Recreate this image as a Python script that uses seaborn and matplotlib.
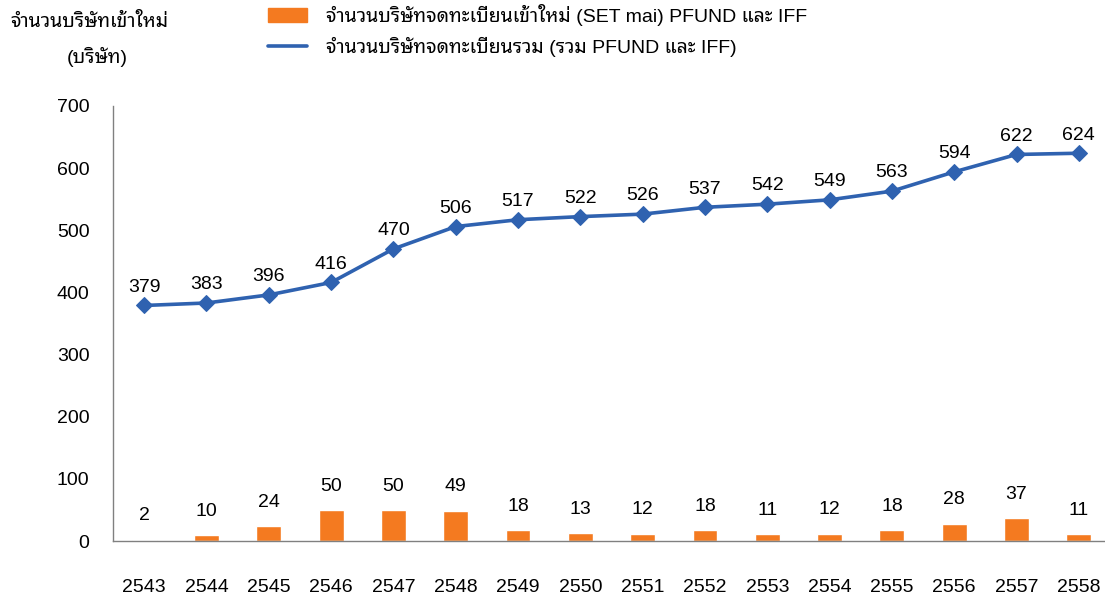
import numpy as np
import matplotlib
matplotlib.use("Agg")
import matplotlib.pyplot as plt
import seaborn as sns
from matplotlib import font_manager
from matplotlib.patches import Patch
from matplotlib.lines import Line2D

years = ['2543', '2544', '2545', '2546', '2547', '2548', '2549', '2550',
         '2551', '2552', '2553', '2554', '2555', '2556', '2557', '2558']
new_listed = [2, 10, 24, 50, 50, 49, 18, 13, 12, 18, 11, 12, 18, 28, 37, 11]
total_listed = [379, 383, 396, 416, 470, 506, 517, 522, 526, 537, 542, 549, 563, 594, 622, 624]

label_bar = 'จำนวนบริษัทจดทะเบียนเข้าใหม่ (SET mai) PFUND และ IFF'
label_line = 'จำนวนบริษัทจดทะเบียนรวม (รวม PFUND และ IFF)'
y_title = 'จำนวนบริษัทเข้าใหม่'
y_unit = '(บริษัท)'

orange = '#F47A20'
blue = '#2F62B0'

sns.set_theme(style="white")
available = {f.name for f in font_manager.fontManager.ttflist}
thai_font = next((n for n in ['Tahoma', 'Noto Sans Thai Looped', 'Sarabun', 'Loma', 'Garuda',
                              'Noto Sans Thai', 'Anuphan'] if n in available), 'DejaVu Sans')
plt.rcParams['font.family'] = ['Liberation Sans', thai_font, 'DejaVu Sans']
plt.rcParams['text.color'] = 'black'
plt.rcParams['xtick.labelcolor'] = 'black'
plt.rcParams['ytick.labelcolor'] = 'black'

fig = plt.figure(figsize=(11.05, 5.99), dpi=100)
ax = fig.add_axes([113 / 1105, 58 / 599, 997 / 1105, 435 / 599])

x = np.arange(len(years))
sns.barplot(x=years, y=new_listed, color=orange, width=0.4, saturation=1, ax=ax)
sns.lineplot(x=x, y=total_listed, color=blue, linewidth=2.6, marker='D',
             markersize=8, markeredgecolor=blue, ax=ax)

for xi, v in zip(x, new_listed):
    ax.annotate(str(v), (xi, v), xytext=(0, 11), textcoords='offset points',
                ha='center', va='bottom', fontsize=14)
for xi, v in zip(x, total_listed):
    ax.annotate(str(v), (xi, v), xytext=(0, 7), textcoords='offset points',
                ha='center', va='bottom', fontsize=14)

ax.set_xlim(-0.5, 15.5)
ax.set_ylim(0, 700)
ax.set_yticks(range(0, 701, 100))
ax.set_xticks(x)
ax.set_xticklabels(years)
ax.set_xticks(np.arange(-0.5, 15.6, 1), minor=True)
ax.tick_params(axis='x', which='major', length=0, pad=27, labelsize=14)
ax.tick_params(axis='x', which='minor', length=6, width=1, color='#808080', direction='out')
ax.tick_params(axis='y', length=5, width=1, color='#808080', direction='out', pad=12, labelsize=14)
ax.set_xlabel('')
ax.set_ylabel('')
for s in ['top', 'right']:
    ax.spines[s].set_visible(False)
for s in ['left', 'bottom']:
    ax.spines[s].set_color('#808080')
    ax.spines[s].set_linewidth(1)
ax.grid(False)

fig.text(10 / 1105, 1 - 22 / 599, y_title, fontsize=14, va='center', ha='left')
fig.text(97 / 1105, 1 - 57 / 599, y_unit, fontsize=14, va='center', ha='center')

handles = [Patch(facecolor=orange, edgecolor=orange),
           Line2D([0], [0], color=blue, linewidth=2.6)]
fig.legend(handles, [label_bar, label_line], loc='upper left',
           bbox_to_anchor=(260 / 1105, 1.0 + 4 / 599), frameon=False, fontsize=14,
           handlelength=2.0, handletextpad=1.0, labelspacing=0.55,
           borderaxespad=0.0)

fig.savefig('out.png', dpi=100)
